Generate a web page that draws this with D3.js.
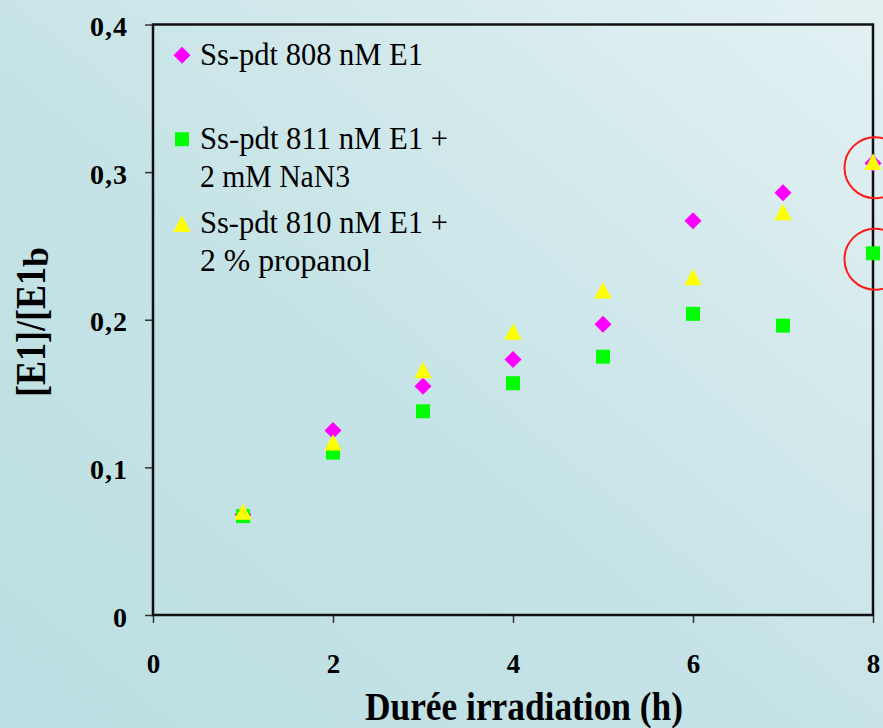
<!DOCTYPE html>
<html>
<head>
<meta charset="utf-8">
<script src="https://cdn.jsdelivr.net/npm/d3@7"></script>
<style>
  html, body { margin: 0; padding: 0; background: #c6e3e6; }
  svg { display: block; }
  svg text { font-family: "Liberation Serif", "DejaVu Serif", "Times New Roman", serif !important; fill: #000; }
</style>
</head>
<body>
<svg id="chart" width="883" height="728"></svg>
<script>
// ---------- data ----------
const hours = [1, 2, 3, 4, 5, 6, 7, 8];
const seriesNames = [
  ["Ss-pdt 808 nM E1"],
  ["Ss-pdt 811 nM E1 +", "2 mM NaN3"],
  ["Ss-pdt 810 nM E1 +", "2 % propanol"]
];
const diamondValues  = [0.068, 0.125, 0.155, 0.173, 0.197, 0.267, 0.286, 0.306];
const squareValues   = [0.067, 0.110, 0.138, 0.157, 0.175, 0.204, 0.196, 0.245];
const triangleValues = [0.070, 0.117, 0.166, 0.192, 0.220, 0.229, 0.273, 0.307];
const xTicks = [0, 2, 4, 6, 8];
const yTicks = [0, 0.1, 0.2, 0.3, 0.4];
const yTickLabels = ["0", "0,1", "0,2", "0,3", "0,4"];
const highlightX = [8, 8];
const highlightY = [0.303, 0.241];
const xTitle = "Durée irradiation (h)";
const yTitleMain = "[E1]/[E1";
const yTitleSub = "b";

// ---------- layout ----------
const W = 883, H = 728;
const plot = { left: 153, right: 873, top: 24.5, bottom: 615 };
const colors = ["#ff00ff", "#00ff00", "#ffff00"];
const serif = "'Liberation Serif', 'DejaVu Serif', 'Times New Roman', serif";

const svg = d3.select("#chart");

// background gradient
const defs = svg.append("defs");
const grad = defs.append("linearGradient").attr("id", "bg")
  .attr("x1", 0).attr("y1", 1).attr("x2", 1).attr("y2", 0);
grad.append("stop").attr("offset", "0%").attr("stop-color", "#bcdfe3");
grad.append("stop").attr("offset", "45%").attr("stop-color", "#c5e3e6");
grad.append("stop").attr("offset", "100%").attr("stop-color", "#e4f1f3");
svg.append("rect").attr("width", W).attr("height", H).attr("fill", "url(#bg)");

const x = d3.scaleLinear().domain([0, 8]).range([plot.left, plot.right]);
const y = d3.scaleLinear().domain([0, 0.4]).range([plot.bottom, plot.top]);

// axes (ticks)
const xAxis = d3.axisBottom(x).tickValues(xTicks).tickSize(8).tickFormat(d3.format("d"));
const gx = svg.append("g").attr("transform", `translate(0,${plot.bottom})`).call(xAxis)
  .attr("font-family", serif).attr("font-size", 27);
gx.select(".domain").remove();
gx.selectAll(".tick line").attr("stroke", "#333").attr("stroke-width", 1.5);
gx.selectAll(".tick text")
  .attr("y", 58).attr("dy", 0)
  .attr("font-weight", "bold").attr("fill", "#000");

const yAxis = d3.axisLeft(y).tickValues(yTicks).tickSize(8)
  .tickFormat((d, i) => yTickLabels[i]);
const gy = svg.append("g").attr("transform", `translate(${plot.left},0)`).call(yAxis)
  .attr("font-family", serif).attr("font-size", 28);
gy.select(".domain").remove();
gy.selectAll(".tick line").attr("stroke", "#333").attr("stroke-width", 1.5);
gy.selectAll(".tick text")
  .attr("x", -25).attr("dy", 11)
  .attr("letter-spacing", 1)
  .attr("font-weight", "bold").attr("fill", "#000");

// plot border
svg.append("rect")
  .attr("x", plot.left).attr("y", plot.top)
  .attr("width", plot.right - plot.left).attr("height", plot.bottom - plot.top)
  .attr("fill", "none").attr("stroke", "#111").attr("stroke-width", 2.5);

// markers
function diamondPath(s) { const p = d3.path(); p.moveTo(0, -s); p.lineTo(s, 0); p.lineTo(0, s); p.lineTo(-s, 0); p.closePath(); return p.toString(); }
function squarePath(s) { const p = d3.path(); p.rect(-s, -s, 2 * s, 2 * s); return p.toString(); }
function trianglePath(w, h) { const p = d3.path(); p.moveTo(0, -h); p.lineTo(w, h); p.lineTo(-w, h); p.closePath(); return p.toString(); }
const shapes = [diamondPath(8.5), squarePath(7), trianglePath(8.7, 8.2)];
const allSeries = [diamondValues, squareValues, triangleValues];

allSeries.forEach((vals, si) => {
  svg.append("g").selectAll("path")
    .data(hours.map((h, i) => [h, vals[i]]))
    .join("path")
    .attr("d", shapes[si])
    .attr("transform", d => `translate(${x(d[0])},${y(d[1])})`)
    .attr("fill", colors[si]);
});

// red highlight circles
svg.append("g").selectAll("circle")
  .data(highlightX.map((hx, i) => [hx, highlightY[i]]))
  .join("circle")
  .attr("cx", d => x(d[0]) + 2).attr("cy", d => y(d[1]))
  .attr("r", 30.5)
  .attr("fill", "none").attr("stroke", "#ff1a1a").attr("stroke-width", 2);

// legend
const legendMarkerY = [55.3, 139.2, 223.7];
const legendLineY = [[65], [149.3, 186.7], [233.3, 270.7]];
const legendWidths = [[223], [248, 150], [248, 171]];
const lg = svg.append("g").attr("font-family", serif);
seriesNames.forEach((lines, si) => {
  lg.append("path").attr("d", shapes[si])
    .attr("transform", `translate(182,${legendMarkerY[si]})`)
    .attr("fill", colors[si]);
  lines.forEach((t, li) => {
    lg.append("text")
      .attr("x", 200).attr("y", legendLineY[si][li])
      .attr("textLength", legendWidths[si][li])
      .attr("lengthAdjust", "spacingAndGlyphs")
      .attr("font-size", 32)
      .text(t);
  });
});

// axis titles
svg.append("text")
  .attr("x", 524).attr("y", 720)
  .attr("text-anchor", "middle")
  .attr("font-family", serif)
  .attr("textLength", 318).attr("lengthAdjust", "spacingAndGlyphs")
  .attr("font-size", 40).attr("font-weight", "bold")
  .text(xTitle);

const yt = svg.append("text")
  .attr("transform", "translate(45,397) rotate(-90)")
  .attr("x", 0).attr("y", 0)
  .attr("font-family", serif)
  .attr("font-size", 42).attr("font-weight", "bold");
yt.append("tspan").attr("textLength", 130).attr("lengthAdjust", "spacingAndGlyphs").text(yTitleMain);
yt.append("tspan").attr("dy", 3).attr("font-size", 36).text(yTitleSub);
</script>
</body>
</html>
